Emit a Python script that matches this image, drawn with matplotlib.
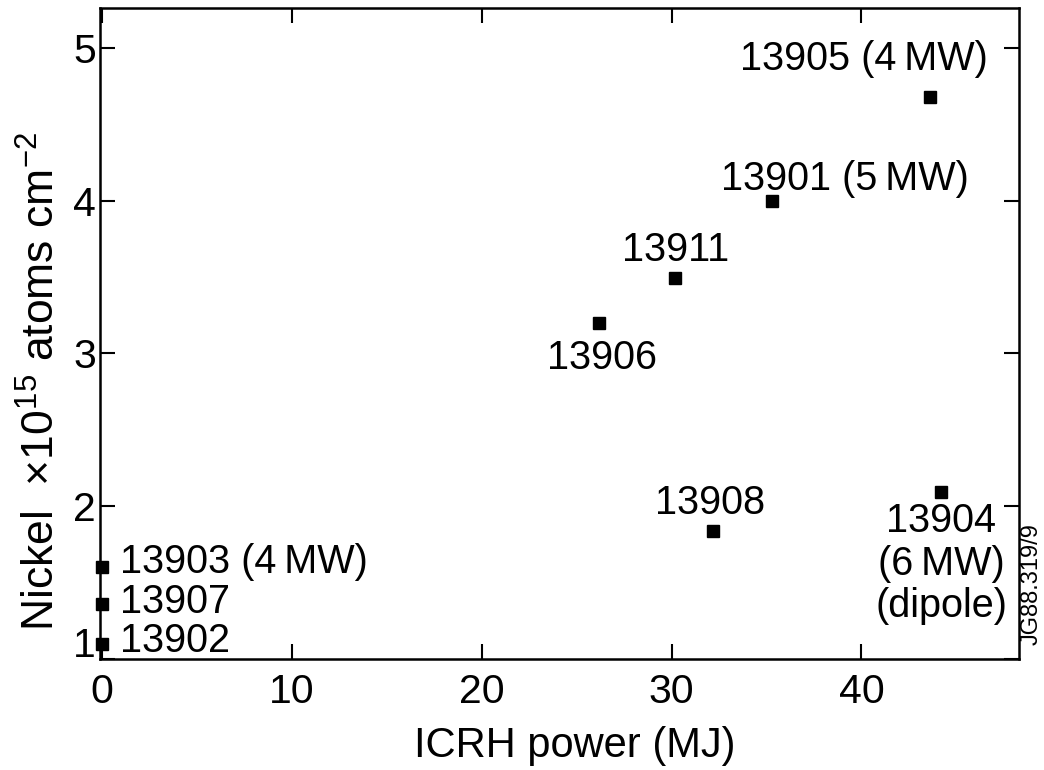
import numpy as np
import matplotlib
matplotlib.use("Agg")
import matplotlib.pyplot as plt
import matplotlib.transforms as mtransforms

plt.rcParams["font.family"] = ["Liberation Sans", "DejaVu Sans"]
plt.rcParams["mathtext.fontset"] = "custom"
plt.rcParams["mathtext.rm"] = "Liberation Sans"
plt.rcParams["mathtext.default"] = "regular"

# data: ICRH energy (MJ) and nickel content (1e15 atoms/cm2)
shots = ["13905", "13901", "13911", "13906", "13908", "13904", "13903", "13907", "13902"]
energy = [43.6, 35.3, 30.2, 26.2, 32.2, 44.2, 0.0, 0.0, 0.0]
nickel = [4.68, 4.00, 3.49, 3.20, 1.84, 2.09, 1.60, 1.36, 1.10]
labels = ["13905 (4\u2009MW)", "13901 (5\u2009MW)", "13911", "13906", "13908",
          "13904\n(6\u2009MW)\n(dipole)", "13903 (4\u2009MW)", "13907", "13902"]

xticks = [0, 10, 20, 30, 40]
yticks = [1, 2, 3, 4, 5]

# label placement in pixels relative to the marker
offsets = [(58, 27, "right", "baseline"), (-51, 11, "left", "baseline"),
           (0, 17, "center", "baseline"), (3, -46, "center", "baseline"),
           (-3, 17, "center", "baseline"), (0, -10, "center", "top"),
           (18, -6, "left", "baseline"), (18, -9, "left", "baseline"),
           (18, -8, "left", "baseline")]

fig = plt.figure(figsize=(10.44, 7.70), dpi=100)
ax = fig.add_axes([100 / 1044, 1 - 659 / 770, 919 / 1044, 651 / 770])

ax.plot(energy, nickel, "s", color="black", ms=8.5, clip_on=False, zorder=5)

for xv, yv, lab, (dx, dy, ha, va) in zip(energy, nickel, labels, offsets):
    ax.annotate(lab, (xv, yv), xytext=(dx, dy), textcoords="offset pixels",
                ha=ha, va=va, fontsize=28.5, linespacing=1.15)

ax.set_xlim(-0.1, 48.3)
ax.set_ylim(1.0, 5.26)
ax.set_xticks(xticks)
ax.set_yticks(yticks)
ax.tick_params(direction="in", length=11, width=1.5, top=True, right=True,
               labelsize=29.5)
ax.tick_params(axis="x", pad=10)
ax.tick_params(axis="y", pad=3)
for sp in ax.spines.values():
    sp.set_linewidth(1.8)

# lift the "1" label clear of the corner
lab1 = ax.get_yticklabels()[0]
lab1.set_transform(lab1.get_transform() + mtransforms.ScaledTranslation(0, 17 / 100, fig.dpi_scale_trans))

ax.set_xlabel("ICRH power (MJ)", fontsize=30)
ax.xaxis.set_label_coords((575 - 100) / 919, -0.103)
ax.set_ylabel("Nickel  \u00d710$^{15}$ atoms cm$^{-2}$", fontsize=32)
ax.yaxis.set_label_coords(-0.04, (659 - 381) / 651)

fig.text(1032 / 1044, 1 - 584 / 770, "JG88.319/9", rotation=90, fontsize=17,
         ha="center", va="center")

fig.savefig("out.png", dpi=100)
